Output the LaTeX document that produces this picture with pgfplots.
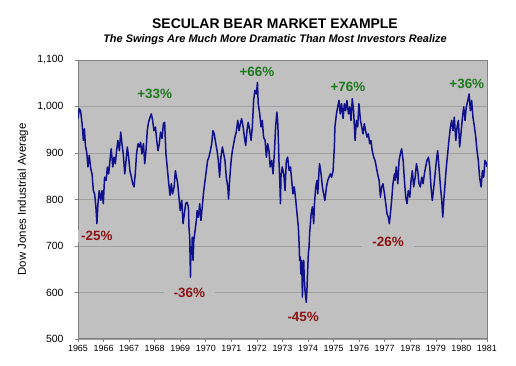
\documentclass[border=0pt]{standalone}
\usepackage{fontspec}
\setmainfont{Liberation Sans}
\usepackage{pgfplots}
\pgfplotsset{compat=1.18}
\definecolor{plotbg}{RGB}{192,192,192}
\definecolor{gridc}{RGB}{160,160,160}
\definecolor{axc}{RGB}{128,128,128}
\definecolor{dow}{RGB}{16,16,140}
\definecolor{upc}{RGB}{30,120,30}
\definecolor{dnc}{RGB}{140,20,20}
\begin{document}
\begin{tikzpicture}
\useasboundingbox (0,0) rectangle (516bp,366bp);
\node[anchor=base, font=\fontsize{14}{16}\selectfont\bfseries] at (275bp,337.7bp) {SECULAR BEAR MARKET EXAMPLE};
\node[anchor=base, font=\fontsize{11}{13}\selectfont\bfseries\itshape] at (275bp,323.3bp) {The Swings Are Much More Dramatic Than Most Investors Realize};
\begin{axis}[
 at={(78bp,27bp)}, anchor=south west,
 scale only axis, width=409bp, height=279bp,
 xmin=1965, xmax=1981, ymin=500, ymax=1100,
 xtick={1965,...,1981}, ytick={500,600,...,1100},
 tick pos=left, tick align=outside, major tick length=3bp,
 tick style={draw=axc, line width=0.6bp},
 axis background/.style={fill=plotbg},
 axis line style={draw=axc, line width=1bp},
 ymajorgrids, major grid style={draw=gridc, line width=0.6bp},
 /pgf/number format/assume math mode=true,
 x tick label style={font=\fontsize{9}{10}\selectfont, /pgf/number format/1000 sep={}},
 y tick label style={font=\fontsize{10.5}{12}\selectfont, /pgf/number format/1000 sep={,}, xshift=-8bp},
 ylabel={Dow Jones Industrial Average},
 ylabel style={font=\fontsize{11.5}{13}\selectfont, at={(axis description cs:-0.1345,0.5)}, anchor=center},
]
\tikzset{lbl/.style={font=\fontsize{13.5}{15}\selectfont\bfseries, fill=plotbg, inner xsep=10bp, inner ysep=1bp}}
\node[lbl, text=upc] at (axis cs:1968.0,1028) {+33\%};
\node[lbl, text=upc] at (axis cs:1972.0,1075) {+66\%};
\node[lbl, text=upc] at (axis cs:1975.56,1043) {+76\%};
\node[lbl, text=upc] at (axis cs:1980.21,1049) {+36\%};
\node[lbl, text=dnc] at (axis cs:1965.74,722) {-25\%};
\node[lbl, text=dnc] at (axis cs:1969.36,600) {-36\%};
\node[lbl, text=dnc] at (axis cs:1973.81,547) {-45\%};
\node[lbl, text=dnc] at (axis cs:1977.13,708) {-26\%};
\addplot[color=dow, line width=1.5bp, line join=round] table {
x y
1965.00 974
1965.05 995
1965.10 991
1965.16 963
1965.21 927
1965.25 952
1965.29 916
1965.34 902
1965.39 870
1965.44 895
1965.50 866
1965.55 855
1965.60 819
1965.65 812
1965.70 784
1965.74 748
1965.78 791
1965.83 819
1965.89 798
1965.94 819
1965.99 791
1966.04 848
1966.10 841
1966.15 870
1966.20 855
1966.25 884
1966.30 909
1966.36 870
1966.41 891
1966.46 877
1966.51 905
1966.56 927
1966.62 905
1966.67 945
1966.72 920
1966.77 898
1966.83 855
1966.88 884
1966.93 913
1966.98 891
1967.03 862
1967.09 848
1967.14 834
1967.19 827
1967.24 855
1967.29 898
1967.35 920
1967.40 913
1967.45 923
1967.50 898
1967.56 920
1967.61 877
1967.66 905
1967.71 948
1967.76 966
1967.82 977
1967.87 984
1967.92 970
1967.97 948
1968.03 956
1968.08 927
1968.13 905
1968.18 920
1968.23 945
1968.29 931
1968.34 963
1968.39 966
1968.44 898
1968.49 870
1968.55 834
1968.60 809
1968.65 834
1968.70 812
1968.76 827
1968.81 862
1968.90 834
1968.95 805
1969.00 776
1969.06 798
1969.11 748
1969.16 769
1969.21 791
1969.26 794
1969.32 784
1969.34 741
1969.37 719
1969.40 633
1969.42 698
1969.45 683
1969.47 719
1969.50 669
1969.53 712
1969.58 733
1969.63 755
1969.66 776
1969.71 762
1969.76 791
1969.81 755
1969.86 784
1969.92 819
1969.97 841
1970.02 862
1970.07 884
1970.12 891
1970.18 905
1970.23 920
1970.28 948
1970.33 941
1970.39 920
1970.44 905
1970.49 884
1970.54 848
1970.59 891
1970.65 913
1970.70 898
1970.75 884
1970.80 848
1970.86 827
1970.89 801
1970.93 841
1970.99 884
1971.04 905
1971.09 920
1971.14 934
1971.19 945
1971.25 970
1971.30 948
1971.35 963
1971.40 974
1971.46 956
1971.51 934
1971.56 916
1971.61 948
1971.66 966
1971.72 948
1971.77 927
1971.82 956
1971.87 1013
1971.92 1035
1971.98 1027
1972.02 1052
1972.05 1006
1972.11 984
1972.16 956
1972.21 970
1972.26 934
1972.32 927
1972.37 891
1972.42 920
1972.47 905
1972.52 870
1972.58 884
1972.63 855
1972.68 898
1972.73 956
1972.78 988
1972.81 970
1972.84 927
1972.86 884
1972.89 848
1972.92 791
1972.94 848
1972.99 870
1973.05 855
1973.10 819
1973.15 884
1973.20 891
1973.26 862
1973.31 870
1973.36 841
1973.41 812
1973.46 827
1973.52 798
1973.57 769
1973.62 741
1973.65 705
1973.67 669
1973.70 676
1973.72 640
1973.75 669
1973.78 590
1973.80 655
1973.83 669
1973.85 633
1973.88 604
1973.93 579
1973.96 611
1973.99 655
1974.01 683
1974.04 698
1974.06 726
1974.12 769
1974.17 784
1974.22 748
1974.25 791
1974.30 827
1974.35 841
1974.38 812
1974.43 862
1974.45 877
1974.51 855
1974.56 827
1974.61 812
1974.66 798
1974.72 827
1974.77 841
1974.82 848
1974.87 855
1974.92 848
1974.98 862
1975.00 884
1975.03 913
1975.05 956
1975.11 984
1975.16 999
1975.21 1013
1975.26 984
1975.31 1006
1975.37 974
1975.42 1006
1975.47 991
1975.52 1013
1975.58 984
1975.63 999
1975.68 970
1975.73 1017
1975.78 991
1975.84 927
1975.89 970
1975.94 956
1975.99 1006
1976.05 970
1976.10 956
1976.15 941
1976.20 963
1976.25 948
1976.31 934
1976.36 941
1976.41 920
1976.46 927
1976.51 905
1976.57 891
1976.62 884
1976.67 870
1976.72 855
1976.78 841
1976.83 805
1976.88 827
1976.93 834
1976.99 812
1977.04 791
1977.09 769
1977.14 762
1977.18 748
1977.22 769
1977.27 798
1977.32 834
1977.38 855
1977.40 841
1977.45 870
1977.51 834
1977.56 884
1977.61 898
1977.66 909
1977.72 884
1977.77 841
1977.82 805
1977.87 791
1977.92 819
1977.98 805
1978.03 841
1978.08 862
1978.13 827
1978.19 848
1978.24 877
1978.29 862
1978.34 834
1978.39 827
1978.45 848
1978.50 834
1978.55 855
1978.60 870
1978.65 884
1978.71 891
1978.76 870
1978.81 827
1978.86 798
1978.92 827
1978.97 855
1979.02 884
1979.07 905
1979.12 870
1979.18 827
1979.23 798
1979.27 762
1979.31 798
1979.36 834
1979.41 870
1979.46 898
1979.51 927
1979.57 956
1979.62 970
1979.67 948
1979.72 977
1979.78 927
1979.83 956
1979.88 970
1979.93 913
1979.98 941
1980.04 977
1980.09 999
1980.14 970
1980.19 999
1980.25 1013
1980.30 1027
1980.35 991
1980.40 1013
1980.45 977
1980.51 956
1980.56 934
1980.61 905
1980.66 884
1980.71 848
1980.77 827
1980.82 862
1980.87 848
1980.92 884
1980.98 877
1981.00 870
};
\end{axis}
\end{tikzpicture}
\end{document}
